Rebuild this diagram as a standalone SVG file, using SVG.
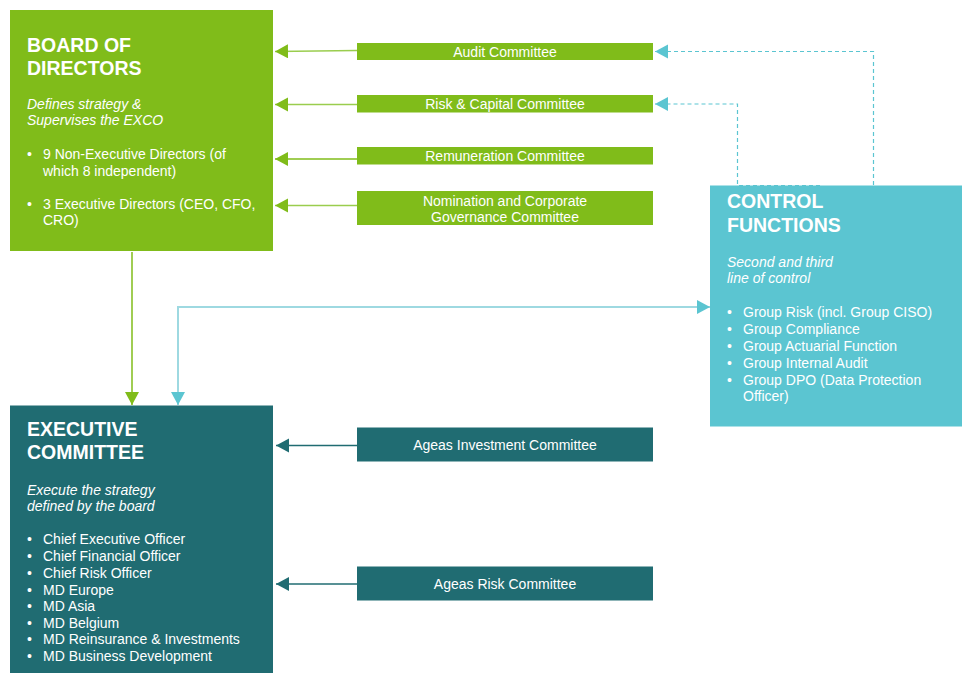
<svg xmlns="http://www.w3.org/2000/svg" width="962" height="673" viewBox="0 0 962 673">
  <style>
    .t { font-family: "Liberation Sans", Arial, sans-serif; fill: #ffffff; }
    .h { font-size: 19.5px; font-weight: bold; }
    .i { font-size: 14px; font-style: italic; }
    .b { font-size: 14px; }
    .c { font-size: 14px; text-anchor: middle; }
    .green { fill: #80BC1A; }
    .teal { fill: #206C72; }
    .cyan { fill: #5BC5D1; }
  </style>
  <defs>
    <marker id="ahGreen" markerUnits="userSpaceOnUse" markerWidth="14" markerHeight="16" refX="13" refY="7" orient="auto">
      <path d="M0,0 L13,7 L0,14 Z" fill="#80BC1A"/>
    </marker>
    <marker id="ahTeal" markerUnits="userSpaceOnUse" markerWidth="14" markerHeight="16" refX="13" refY="7" orient="auto">
      <path d="M0,0 L13,7 L0,14 Z" fill="#206C72"/>
    </marker>
    <marker id="ahCyan" markerUnits="userSpaceOnUse" markerWidth="14" markerHeight="16" refX="13" refY="7" orient="auto-start-reverse">
      <path d="M0,0 L13,7 L0,14 Z" fill="#5BC5D1"/>
    </marker>
  </defs>

  <rect width="962" height="673" fill="#ffffff"/>

  <!-- Board of Directors -->
  <g id="board">
    <rect class="green" x="10" y="10" width="263" height="241"/>
    <text class="t h" x="27" y="52">BOARD OF</text>
    <text class="t h" x="27" y="75">DIRECTORS</text>
    <text class="t i" x="27" y="109">Defines strategy &amp;</text>
    <text class="t i" x="27" y="125">Supervises the EXCO</text>
    <text class="t b" x="27" y="159">•</text>
    <text class="t b" x="43" y="159">9 Non-Executive Directors (of</text>
    <text class="t b" x="43" y="175.5">which 8 independent)</text>
    <text class="t b" x="27" y="209">•</text>
    <text class="t b" x="43" y="209">3 Executive Directors (CEO, CFO,</text>
    <text class="t b" x="43" y="225">CRO)</text>
  </g>

  <!-- Board committees -->
  <g id="audit-committee">
    <rect class="green" x="357" y="43" width="296" height="17"/>
    <text class="t c" x="505" y="56.5">Audit Committee</text>
  </g>
  <g id="risk-capital-committee">
    <rect class="green" x="357" y="95" width="296" height="17.5"/>
    <text class="t c" x="505" y="108.5">Risk &amp; Capital Committee</text>
  </g>
  <g id="remuneration-committee">
    <rect class="green" x="357" y="147" width="296" height="17.5"/>
    <text class="t c" x="505" y="160.5">Remuneration Committee</text>
  </g>
  <g id="nomination-committee">
    <rect class="green" x="357" y="191" width="296" height="34"/>
    <text class="t c" x="505" y="205.5">Nomination and Corporate</text>
    <text class="t c" x="505" y="221.5">Governance Committee</text>
  </g>

  <!-- Control Functions -->
  <g id="control-functions">
    <rect class="cyan" x="710" y="185.5" width="252" height="241"/>
    <text class="t h" x="727" y="208">CONTROL</text>
    <text class="t h" x="727" y="232">FUNCTIONS</text>
    <text class="t i" x="727" y="267">Second and third</text>
    <text class="t i" x="727" y="283">line of control</text>
    <text class="t b" x="727" y="317">•</text>
    <text class="t b" x="743" y="317">Group Risk (incl. Group CISO)</text>
    <text class="t b" x="727" y="334">•</text>
    <text class="t b" x="743" y="334">Group Compliance</text>
    <text class="t b" x="727" y="351">•</text>
    <text class="t b" x="743" y="351">Group Actuarial Function</text>
    <text class="t b" x="727" y="367.5">•</text>
    <text class="t b" x="743" y="367.5">Group Internal Audit</text>
    <text class="t b" x="727" y="384.5">•</text>
    <text class="t b" x="743" y="384.5">Group DPO (Data Protection</text>
    <text class="t b" x="743" y="401">Officer)</text>
  </g>

  <!-- Executive Committee -->
  <g id="executive-committee">
    <rect class="teal" x="10" y="405.5" width="263" height="268"/>
    <text class="t h" x="27" y="436">EXECUTIVE</text>
    <text class="t h" x="27" y="459">COMMITTEE</text>
    <text class="t i" x="27" y="495">Execute the strategy</text>
    <text class="t i" x="27" y="511">defined by the board</text>
    <g class="t b">
      <text x="27" y="544">•</text><text x="43" y="544">Chief Executive Officer</text>
      <text x="27" y="561">•</text><text x="43" y="561">Chief Financial Officer</text>
      <text x="27" y="577.5">•</text><text x="43" y="577.5">Chief Risk Officer</text>
      <text x="27" y="594.5">•</text><text x="43" y="594.5">MD Europe</text>
      <text x="27" y="611">•</text><text x="43" y="611">MD Asia</text>
      <text x="27" y="627.5">•</text><text x="43" y="627.5">MD Belgium</text>
      <text x="27" y="644">•</text><text x="43" y="644">MD Reinsurance &amp; Investments</text>
      <text x="27" y="661">•</text><text x="43" y="661">MD Business Development</text>
    </g>
  </g>

  <!-- Executive committees -->
  <g id="investment-committee">
    <rect class="teal" x="357" y="427.5" width="296" height="34"/>
    <text class="t c" x="505" y="450">Ageas Investment Committee</text>
  </g>
  <g id="exco-risk-committee">
    <rect class="teal" x="357" y="566.5" width="296" height="34"/>
    <text class="t c" x="505" y="589">Ageas Risk Committee</text>
  </g>

  <!-- connectors -->
  <g id="connectors" fill="none">
    <line x1="357" y1="50.5" x2="275" y2="51.5" stroke="#9ACD4E" stroke-width="1.5" marker-end="url(#ahGreen)"/>
    <line x1="357" y1="104.5" x2="275" y2="104.5" stroke="#9ACD4E" stroke-width="1.5" marker-end="url(#ahGreen)"/>
    <line x1="357" y1="159" x2="275" y2="159" stroke="#80BC1A" stroke-width="1.5" marker-end="url(#ahGreen)"/>
    <line x1="357" y1="205.5" x2="275" y2="205.5" stroke="#9ACD4E" stroke-width="1.5" marker-end="url(#ahGreen)"/>
    <line x1="132" y1="252" x2="132" y2="405" stroke="#80BC1A" stroke-width="1.5" marker-end="url(#ahGreen)"/>
    <path d="M178,405 L178,307 L710,307" stroke="#9ED9E1" stroke-width="2" marker-start="url(#ahCyan)" marker-end="url(#ahCyan)"/>
    <path d="M873.5,185 L873.5,51.5 L655,51.5" stroke="#5BC5D1" stroke-width="1.2" stroke-dasharray="4,3" marker-end="url(#ahCyan)"/>
    <path d="M820,185.5 L737.5,185.5 L737.5,104 L655,104" stroke="#5BC5D1" stroke-width="1.2" stroke-dasharray="4,3" marker-end="url(#ahCyan)"/>
    <line x1="357" y1="445.5" x2="276" y2="445.5" stroke="#206C72" stroke-width="1.5" marker-end="url(#ahTeal)"/>
    <line x1="357" y1="584" x2="276" y2="584" stroke="#206C72" stroke-width="1.5" marker-end="url(#ahTeal)"/>
  </g>
</svg>
